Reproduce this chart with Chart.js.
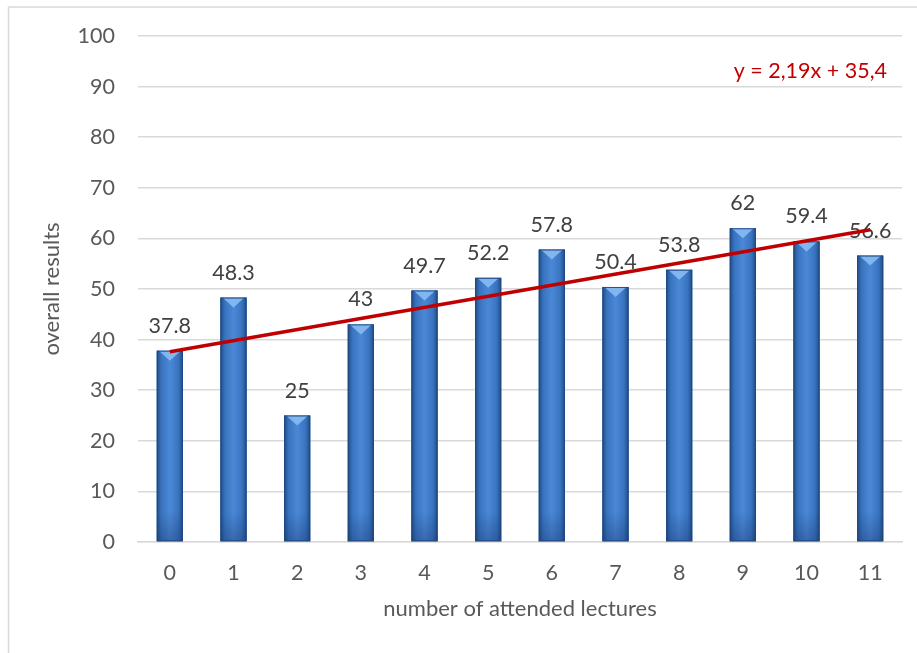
<!DOCTYPE html>
<html>
<head>
<meta charset="utf-8">
<script src="https://cdn.jsdelivr.net/npm/chart.js@4/dist/chart.umd.min.js"></script>
<style>
  html, body { margin: 0; padding: 0; background: #fff; }
  #wrap { position: absolute; left: 0; top: 0; width: 917px; height: 653px; }
</style>
</head>
<body>
<div id="wrap"><canvas id="c" width="917" height="653"></canvas></div>
<script>
// ---- data ----
const categories = ['0','1','2','3','4','5','6','7','8','9','10','11'];
const overallResults = [37.8, 48.3, 25, 43, 49.7, 52.2, 57.8, 50.4, 53.8, 62, 59.4, 56.6];
// linear trend line endpoints (first and last category)
const trendValues = [37.6, null, null, null, null, null, null, null, null, null, null, 61.7];
const trendLabel = 'y = 2,19x + 35,4';
const yTicks = [0, 10, 20, 30, 40, 50, 60, 70, 80, 90, 100];

const FONT = 'Lato, "Open Sans", sans-serif';
const FS = 21.5;

const framePlugin = {
  id: 'frame',
  beforeDraw(chart) {
    const c = chart.ctx;
    c.save();
    c.fillStyle = '#fff';
    c.fillRect(0, 0, chart.width, chart.height);
    c.strokeStyle = '#d9d9d9';
    c.lineWidth = 1.5;
    c.beginPath();
    c.moveTo(8.5, chart.height);
    c.lineTo(8.5, 7);
    c.lineTo(chart.width, 7);
    c.stroke();
    c.restore();
  }
};

const barStylePlugin = {
  id: 'barStyle',
  afterDatasetDraw(chart, args) {
    if (args.index !== 0) return;
    const meta = chart.getDatasetMeta(0);
    const c = chart.ctx;
    c.save();
    meta.data.forEach((el, i) => {
      const p = el.getProps(['x', 'y', 'base', 'width'], true);
      const l = p.x - p.width / 2, r = p.x + p.width / 2;
      const top = p.y, bot = p.base;
      const g = c.createLinearGradient(l, 0, r, 0);
      g.addColorStop(0, '#1f4e86');
      g.addColorStop(0.18, '#3a74c0');
      g.addColorStop(0.5, '#4a88d6');
      g.addColorStop(0.82, '#3a74c0');
      g.addColorStop(1, '#1f4e86');
      c.fillStyle = g;
      c.fillRect(l, top, r - l, bot - top);
      // bottom darkening
      const gv = c.createLinearGradient(0, bot - 30, 0, bot);
      gv.addColorStop(0, 'rgba(20,50,100,0)');
      gv.addColorStop(1, 'rgba(20,50,100,0.35)');
      c.fillStyle = gv;
      c.fillRect(l, Math.max(top, bot - 30), r - l, Math.min(30, bot - top));
      // top bevel triangle
      const bev = 10;
      c.fillStyle = 'rgba(140,190,245,0.85)';
      c.beginPath();
      c.moveTo(l + 2, top);
      c.lineTo(r - 2, top);
      c.lineTo(p.x, top + bev);
      c.closePath();
      c.fill();
      // outline
      c.strokeStyle = 'rgba(30,70,130,0.9)';
      c.lineWidth = 1;
      c.strokeRect(l + 0.5, top + 0.5, r - l - 1, bot - top - 1);
      // data label
      c.fillStyle = '#404040';
      c.font = FS + 'px ' + FONT;
      c.textAlign = 'center';
      c.textBaseline = 'alphabetic';
      c.fillText(String(overallResults[i]), p.x, top - 18);
    });
    c.restore();
  },
  afterDraw(chart) {
    const c = chart.ctx;
    const area = chart.chartArea;
    c.save();
    c.fillStyle = '#c00000';
    c.font = FS + 'px ' + FONT;
    c.textAlign = 'right';
    c.textBaseline = 'middle';
    c.fillText(trendLabel, area.right - 15, chart.scales.y.getPixelForValue(93.0));
    c.restore();
  }
};

new Chart(document.getElementById('c'), {
  type: 'bar',
  data: {
    labels: categories,
    datasets: [
      {
        type: 'bar',
        data: overallResults,
        backgroundColor: '#3a74c0',
        barPercentage: 0.41,
        categoryPercentage: 1.0,
        order: 1
      },
      {
        type: 'line',
        data: trendValues,
        borderColor: '#c00000',
        borderWidth: 3.5,
        pointRadius: 0,
        spanGaps: true,
        fill: false,
        order: 0
      }
    ]
  },
  options: {
    responsive: false,
    animation: false,
    events: [],
    layout: { padding: { left: 14, right: 15, top: 36, bottom: 18 } },
    plugins: { legend: { display: false }, tooltip: { enabled: false } },
    scales: {
      x: {
        grid: { display: false, drawTicks: false },
        border: { display: true, color: '#d9d9d9', width: 1.5 },
        ticks: { color: '#595959', font: { family: FONT, size: FS }, padding: 18 },
        title: { display: true, text: 'number of attended lectures', color: '#595959', font: { family: FONT, size: 22 }, padding: { top: 6, bottom: 13 } },
        afterFit(s) { s.height = 653 - 542 - 18; }
      },
      y: {
        min: 0, max: 100,
        afterBuildTicks(s) { s.ticks = yTicks.map(v => ({ value: v })); },
        grid: { color: '#d9d9d9', lineWidth: 1.5, drawTicks: false },
        border: { display: false },
        ticks: { color: '#595959', font: { family: FONT, size: FS }, padding: 23 },
        title: { display: true, text: 'overall results', color: '#595959', font: { family: FONT, size: 22 }, padding: { top: 25, bottom: 0 } },
        afterFit(s) { s.width = 138 - 14; }
      }
    }
  },
  plugins: [framePlugin, barStylePlugin]
});
</script>
</body>
</html>
